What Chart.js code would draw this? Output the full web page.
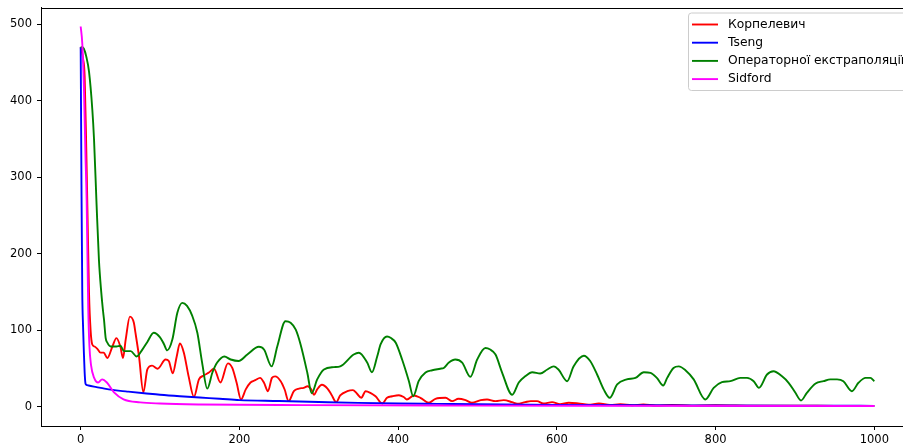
<!DOCTYPE html>
<html>
<head>
<meta charset="utf-8">
<script src="https://cdn.jsdelivr.net/npm/chart.js@4.4.1/dist/chart.umd.min.js"></script>
<style>
html,body{margin:0;padding:0;overflow:hidden;background:#fff;}
#wrap{position:relative;width:915px;height:448px;}
</style>
</head>
<body>
<div id="wrap"><canvas id="c"></canvas></div>
<script>
// ---- data ----
const seriesNames = ["Корпелевич", "Tseng", "Операторної екстраполяції", "Sidford"];
const seriesColors = ["#ff0000", "#0000ff", "#008000", "#ff00ff"];

const korpX = [0,3,5,7,8.5,10.5,12.5,14.5,17.5,21,25,29,33.6,40,45,50,53.3,56.7,62,67,69,73.5,79,84,90,97,107,111,116,121,125,130,136,142.7,149,155,161.6,168,176,185.5,191,196.5,202,208,214,220,226,231,236,241,245,252,257,262,268.6,275,281,286,290.5,294,298,304,311,316,322,327,336,343,348,353.5,359,365,371.5,380,386,392.6,401,407,411,419.8,428,438.7,447,459.7,468,476,485,493,504,512,522.7,533,543.6,550,560,567,575,583,594,604,615,627,640,653,667,680,695,709,725,745,770,800,850,900,950,1000];
const korpY = [470,455,432,340,258,150,100,82,79,76,71,71,64,79,90,79,64,88,118,110,97,66,19,49,54,50,62,60,44,66,83,71,40,13,36,41,45,50,32,57,51,31.6,9.8,23,32,35,38,31.6,20.6,38,40,33.7,22.8,7.6,20.6,24,25,27,23,16,23,29,24,16,6.3,15,20.6,22,17.6,12,20.6,18.5,14,4.6,12,14,15.4,13,9.8,15,12,5.5,10.7,12,7.6,10.7,8.9,5.5,8.9,9.8,7.6,8.9,6.3,4.2,6.3,7.6,7.6,4.6,6.3,3.7,5.5,4.6,3,4.6,2.5,3.5,2.3,3.3,2,2.6,1.8,2.2,1.6,1.8,1.4,1.3];

const tsengX = [0,1,2,3,4,5,6,7,10,20,30,40,50,60,80,100,125,150,175,200,250,300,350,400,450,500,600,700,800,900,1000];
const tsengY = [470,290,150,105,72,45,31,29,28,26,24,22.3,21,20,18,16,14,12.3,10.8,9,7.8,6.5,5.3,4.5,4,3.5,2.8,2.3,2,1.7,1.5];

const operX = [0,2,4,7,10.5,14.7,16.8,20,23,26,28,29.4,31.5,33.6,37.8,45,50,54.5,63,70.5,77.7,84,92,100,105,109,115.5,121.8,128,134,140.6,147,153,159.5,166,172,181,189,199,210,224.5,231,240.6,247.7,258,264.5,271,277,285.5,291,298,306.5,319,327,344,350.5,361,367,373.6,378,386,391,397,405,413.5,419,426,434.5,443,453,457.5,464,472,480.7,491,499.6,510,516,522.7,531,543.7,552,560,569,579,588,596,602,613,621,634,642,650.7,659,666.6,676,688,699,709.5,718,726,734,739,747,753.5,762,772.4,787,797.6,808,818.6,831,839.6,848,854.6,864.8,873,883.7,892,900.6,907.6,915,926,936,944.6,953,961,971.8,980,989,995,1000];
const operY = [470,470,468,458,438,388,350,265,192,149,127,114,90,84,79,79,80,73,73,66,75,85,97,91,82,74,88,123,136,132,119,97,58,24,45,58,66,62,60,68.5,78.6,75,53,79,112,110,101,82,45,18,36,49,52,53,68.5,70.8,58,45.4,66,82,92,90,84,62,34,14,34,45,48,50,51,58,62,58,39.4,62,77,75,68.5,45,16,32,40,45.4,43.7,49,53,49,33.7,53,67,60,42.4,23,12,29.4,36,38,45.4,44.6,38,28,38,51,53,48,36,9.8,25,32.4,33.7,38,38,33.7,25,42.4,46.7,40,31.6,18.5,8.5,18.5,30.7,33.7,36,36,33.7,20.6,31.6,38,38,33.7];

const sidX = [0,2,4,6,7.5,9.5,11,13,17,22,27,33,42,54,75,100,150,280,500,700,1000];
const sidY = [497,475,420,330,270,130,80,55,38,32,36,32,19,10,6,4.5,3.3,2.4,1.8,1.5,1.2];

const xTicks = [0,200,400,600,800,1000];
const yTicks = [0,100,200,300,400,500];

// ---- build ----
function pts(xs, ys){ return xs.map((x,i)=>({x:x, y:ys[i]})); }
const allX = [korpX, tsengX, operX, sidX];
const allY = [korpY, tsengY, operY, sidY];

const datasets = seriesNames.map((name,i)=>({
  label: name,
  data: pts(allX[i], allY[i]),
  borderColor: seriesColors[i],
  backgroundColor: seriesColors[i],
  borderWidth: 1.9,
  pointRadius: 0,
  fill: false,
  cubicInterpolationMode: 'monotone',
  order: seriesNames.length - i
}));

const FONT = '"DejaVu Sans", sans-serif';

const framePlugin = {
  id: 'frame',
  afterDatasetsDraw(chart){
    const {ctx, chartArea:a} = chart;
    ctx.save();
    ctx.strokeStyle = '#000';
    ctx.lineWidth = 1;
    ctx.beginPath();
    ctx.moveTo(Math.round(a.left)+0.5, Math.round(a.top)+0.5);
    ctx.lineTo(Math.round(a.right)+0.5, Math.round(a.top)+0.5);
    ctx.lineTo(Math.round(a.right)+0.5, Math.round(a.bottom)+0.5);
    ctx.stroke();
    ctx.restore();
  }
};

const legendPlugin = {
  id: 'mplLegend',
  afterDraw(chart){
    const ctx = chart.ctx;
    const a = chart.chartArea;
    ctx.save();
    const bx = 688.5, by = a.top + 5.5, bw = (a.right - 5.5) - 688.5, bh = 77.5, r = 3;
    ctx.beginPath();
    ctx.moveTo(bx+r, by);
    ctx.lineTo(bx+bw-r, by); ctx.quadraticCurveTo(bx+bw, by, bx+bw, by+r);
    ctx.lineTo(bx+bw, by+bh-r); ctx.quadraticCurveTo(bx+bw, by+bh, bx+bw-r, by+bh);
    ctx.lineTo(bx+r, by+bh); ctx.quadraticCurveTo(bx, by+bh, bx, by+bh-r);
    ctx.lineTo(bx, by+r); ctx.quadraticCurveTo(bx, by, bx+r, by);
    ctx.closePath();
    ctx.fillStyle = 'rgba(255,255,255,0.8)';
    ctx.fill();
    ctx.strokeStyle = '#cccccc';
    ctx.lineWidth = 1;
    ctx.stroke();
    ctx.font = '12.3px ' + FONT;
    ctx.textBaseline = 'middle';
    ctx.textAlign = 'left';
    chart.data.datasets.forEach((ds,i)=>{
      const y = by + 11.5 + i*18.2;
      ctx.strokeStyle = ds.borderColor;
      ctx.lineWidth = 1.9;
      ctx.beginPath();
      ctx.moveTo(692, y); ctx.lineTo(718, y);
      ctx.stroke();
      ctx.fillStyle = '#000';
      ctx.fillText(ds.label, 728, y);
    });
    ctx.restore();
  }
};

new Chart(document.getElementById('c'), {
  type: 'line',
  data: { datasets },
  options: {
    responsive: true,
    maintainAspectRatio: false,
    animation: false,
    devicePixelRatio: 1,
    layout: { padding: { top: 7.5, right: 1, left: 0, bottom: 0 } },
    plugins: { legend: { display: false }, tooltip: { enabled: false } },
    scales: {
      x: {
        type: 'linear',
        min: -50, max: 1050,
        afterBuildTicks: s => { s.ticks = xTicks.map(v=>({value:v})); },
        afterFit: s => { s.height = 22; s.paddingLeft = 0; s.paddingRight = 0; },
        grid: { display: true, drawOnChartArea: false, drawTicks: true, tickLength: 4, color: '#000', lineWidth: 1 },
        border: { display: true, color: '#000', width: 1 },
        ticks: { color: '#000', font: { family: FONT, size: 11.5 }, padding: 3, maxRotation: 0, autoSkip: false,
                 callback: v => String(v) }
      },
      y: {
        type: 'linear',
        min: -24.85, max: 521.85,
        afterBuildTicks: s => { s.ticks = yTicks.map(v=>({value:v})); },
        afterFit: s => { s.width = 41; s.paddingTop = 0; s.paddingBottom = 0; },
        grid: { display: true, drawOnChartArea: false, drawTicks: true, tickLength: 4, color: '#000', lineWidth: 1 },
        border: { display: true, color: '#000', width: 1 },
        ticks: { color: '#000', font: { family: FONT, size: 11.5 }, padding: 5, autoSkip: false,
                 callback: v => String(v) }
      }
    }
  },
  plugins: [framePlugin, legendPlugin]
});
</script>
</body>
</html>
